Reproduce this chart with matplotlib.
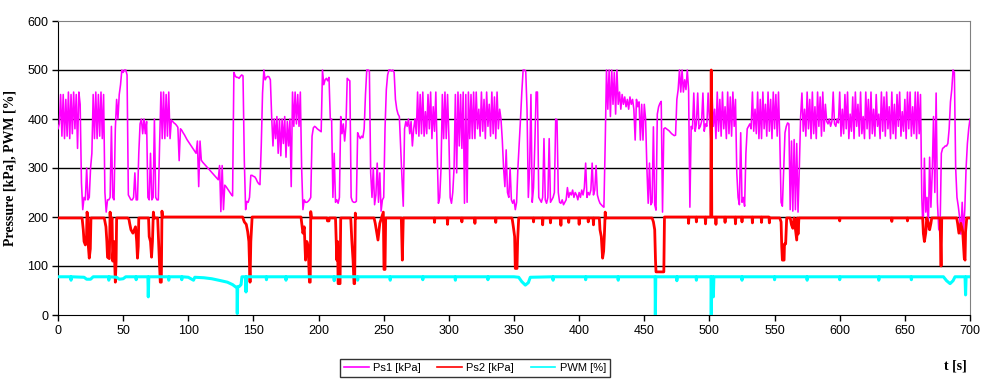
import numpy as np
import matplotlib
matplotlib.use("Agg")
import matplotlib.pyplot as plt

# Ps1 [kPa], one value per second, t = 0 .. 700 s
ps1 = [
    380, 390, 450, 365, 450, 360, 440, 365, 455, 360,   # 0
    450, 370, 455, 380, 450, 340, 455, 430, 270, 215,   # 10
    240, 235, 300, 235, 240, 300, 330, 450, 360, 455,   # 20
    360, 450, 365, 455, 360, 450, 250, 210, 235, 235,   # 30
    240, 385, 240, 235, 380, 440, 400, 450, 470, 500,   # 40
    495, 500, 500, 490, 245, 240, 235, 235, 240, 290,   # 50
    235, 235, 330, 390, 400, 370, 400, 370, 395, 240,   # 60
    235, 330, 235, 240, 400, 240, 235, 235, 350, 455,   # 70
    360, 455, 360, 450, 365, 455, 360, 398, 395, 392,   # 80
    390, 387, 383, 315, 380, 377, 372, 368, 363, 358,   # 90
    354, 350, 346, 342, 338, 334, 330, 355, 262, 355,   # 100
    316, 312, 309, 306, 303, 300, 297, 294, 291, 288,   # 110
    285, 282, 279, 276, 305, 211, 305, 215, 265, 262,   # 120
    258, 254, 250, 246, 243, 495, 488, 485, 485, 483,   # 130
    487, 490, 488, 316, 215, 232, 230, 240, 285, 285,   # 140
    283, 282, 278, 272, 268, 266, 345, 453, 500, 480,   # 150
    485, 487, 486, 480, 405, 345, 400, 360, 405, 330,   # 160
    400, 325, 400, 350, 405, 322, 395, 345, 400, 262,   # 170
    455, 385, 455, 390, 450, 385, 455, 300, 215, 235,   # 180
    230, 230, 232, 235, 240, 365, 382, 385, 383, 380,   # 190
    378, 376, 374, 500, 470, 480, 483, 478, 485, 400,   # 200
    400, 240, 330, 230, 235, 228, 240, 405, 370, 390,   # 210
    355, 385, 483, 480, 478, 240, 232, 230, 230, 232,   # 220
    372, 365, 360, 365, 362, 380, 450, 500, 500, 498,   # 230
    290, 240, 300, 225, 245, 310, 230, 290, 212, 235,   # 240
    240, 380, 460, 490, 500, 500, 498, 500, 495, 440,   # 250
    420, 410, 405, 340, 280, 222, 380, 395, 385, 400,   # 260
    370, 395, 345, 380, 400, 370, 455, 365, 450, 370,   # 270
    455, 365, 415, 370, 450, 380, 455, 360, 425, 375,   # 280
    455, 335, 228, 240, 300, 450, 360, 455, 360, 450,   # 290
    365, 240, 228, 250, 300, 450, 290, 455, 345, 450,   # 300
    340, 455, 228, 450, 230, 455, 360, 450, 360, 455,   # 310
    360, 455, 380, 420, 365, 455, 375, 440, 360, 455,   # 320
    385, 430, 365, 455, 370, 445, 360, 455, 380, 420,   # 330
    400, 358, 300, 262, 337, 250, 240, 300, 235, 228,   # 340
    235, 215, 230, 300, 350, 400, 455, 500, 500, 498,   # 350
    420, 240, 300, 450, 230, 260, 350, 455, 455, 240,   # 360
    235, 230, 240, 360, 235, 228, 240, 360, 230, 235,   # 370
    240, 250, 400, 398, 250, 230, 228, 235, 225, 230,   # 380
    235, 260, 240, 250, 245, 255, 240, 250, 245, 235,   # 390
    250, 240, 255, 245, 260, 310, 240, 250, 245, 255,   # 400
    310, 245, 255, 305, 245, 235, 228, 225, 222, 220,   # 410
    350, 500, 420, 500, 405, 500, 430, 495, 410, 500,   # 420
    430, 455, 420, 450, 430, 445, 425, 440, 420, 445,   # 430
    430, 440, 420, 357, 440, 425, 435, 357, 430, 357,   # 440
    430, 400, 300, 228, 310, 225, 230, 384, 225, 214,   # 450
    410, 425, 432, 436, 210, 380, 382, 380, 378, 376,   # 460
    373, 370, 368, 366, 367, 440, 460, 500, 455, 500,   # 470
    455, 480, 460, 500, 460, 220, 385, 380, 453, 375,   # 480
    390, 453, 380, 385, 395, 453, 375, 390, 385, 453,   # 490
    400, 360, 453, 385, 420, 360, 455, 375, 440, 365,   # 500
    455, 380, 425, 360, 455, 370, 445, 365, 455, 385,   # 510
    440, 290, 240, 225, 372, 230, 240, 222, 330, 380,   # 520
    385, 390, 380, 455, 375, 420, 370, 455, 360, 440,   # 530
    360, 455, 380, 430, 365, 455, 375, 440, 360, 455,   # 540
    380, 450, 365, 455, 360, 230, 222, 300, 372, 385,   # 550
    392, 390, 215, 355, 212, 358, 215, 350, 210, 300,   # 560
    405, 453, 375, 420, 365, 455, 380, 440, 360, 455,   # 570
    370, 425, 360, 455, 385, 445, 365, 455, 375, 430,   # 580
    395, 390, 400, 385, 395, 455, 390, 385, 400, 392,   # 590
    455, 365, 420, 370, 450, 380, 455, 360, 410, 375,   # 600
    445, 360, 455, 385, 430, 365, 455, 370, 405, 360,   # 610
    455, 380, 440, 360, 455, 370, 420, 365, 450, 385,   # 620
    410, 360, 455, 375, 445, 365, 455, 380, 425, 360,   # 630
    455, 370, 430, 360, 450, 385, 455, 365, 415, 375,   # 640
    440, 360, 455, 380, 455, 365, 425, 370, 455, 360,   # 650
    455, 370, 450, 240, 165, 320, 210, 240, 175, 322,   # 660
    220, 290, 405, 250, 453, 230, 175, 170, 330, 340,   # 670
    342, 345, 345, 350, 380, 435, 460, 500, 495, 300,   # 680
    240, 222, 200, 165, 230, 170, 215, 300, 350, 380,   # 690
    400,
]

# Ps2 [kPa] as (t, value) breakpoints
ps2_pts = [
    (0, 198), (18.5, 198), (19.4, 174), (20, 150), (21, 143), (21.8, 150), (22.3, 210),
    (23, 198), (23.3, 140), (24, 116), (24.8, 135), (25.3, 198),
    (35.5, 198), (36.8, 180), (37.5, 150), (38, 118), (39.4, 115), (40, 210), (40.4, 185),
    (41.5, 198), (42, 110), (43, 150), (44, 67), (44.6, 110), (45, 198),
    (53.5, 198), (54.5, 195), (55, 187), (56, 174), (57.5, 167), (58.6, 174), (59.5, 180),
    (60.4, 150), (61, 116), (61.6, 140), (62, 198),
    (69.5, 198), (70, 160), (71, 150), (71.8, 118), (72.5, 150), (73.2, 210), (73.8, 198),
    (76.5, 198), (77.2, 150), (77.8, 110), (78.5, 67), (79.3, 67), (79.6, 150), (79.8, 212),
    (80.3, 200), (141.7, 200), (143, 190), (144.5, 185), (145.6, 170), (146.5, 150),
    (147.4, 67), (148, 150), (149, 200),
    (186.5, 200), (188, 167), (189, 180), (190, 112), (191, 150), (192, 140), (193, 67),
    (193.6, 67), (194, 211), (194.6, 198),
    (206.5, 198), (206.8, 192), (208, 192), (208.3, 198), (213, 198), (214, 112),
    (214.6, 150), (215, 64), (216.5, 64),
    (217, 198), (224.7, 198), (225.5, 153), (226.5, 110), (227.2, 64), (227.7, 64),
    (228.2, 208), (228.6, 198), (242.6, 198), (243.5, 187), (245.6, 153), (247, 187),
    (249.7, 210), (250.2, 93), (251, 93), (251.5, 198), (263.5, 198), (264.3, 112),
    (265, 198),
    (288.7, 198), (289, 189), (289.3, 198), (298.7, 198), (299, 185), (299.3, 198),
    (309.7, 198), (310, 190), (310.3, 198), (319.7, 198), (320, 187), (320.3, 198),
    (335.7, 198), (336, 189), (336.3, 198),
    (348.5, 198), (349.5, 180), (350.5, 160), (351, 95), (352.3, 95), (352.8, 153),
    (353.6, 198),
    (364.7, 198), (365, 190), (365.3, 198), (371.7, 198), (372, 184), (372.3, 198),
    (377.7, 198), (378, 188), (378.3, 198), (385.7, 198), (386, 183), (386.3, 198),
    (391.7, 198), (392, 189), (392.3, 198), (399.7, 198), (400, 185), (400.3, 198),
    (406.7, 198), (407, 190), (407.3, 198), (410.7, 198), (411, 184), (411.3, 198),
    (415.5, 198), (416, 174), (417, 160), (418, 116), (418.8, 130), (419.4, 165),
    (420, 210), (420.5, 198), (456, 198), (457, 190), (458, 174), (458.6, 112), (459, 88),
    (465, 88), (465.5, 200),
    (483.7, 200), (484, 187), (484.3, 200), (489.7, 200), (490, 190), (490.3, 200),
    (496.7, 200), (497, 186), (497.3, 200),
    (501, 200), (501.4, 500), (501.8, 200),
    (504.7, 200), (505, 185), (505.3, 200), (511.7, 200), (512, 189), (512.3, 200),
    (519.7, 200), (520, 186), (520.3, 200), (524.7, 200), (525, 190), (525.3, 200),
    (532.7, 200), (533, 188), (533.3, 200), (539.7, 200), (540, 189), (540.3, 200),
    (545.7, 200), (546, 188), (546.3, 198),
    (554, 198), (555, 190), (555.5, 140), (556, 112), (557.3, 112), (557.6, 145),
    (558.5, 145), (559.3, 198), (562, 198), (563, 184), (564, 177), (565, 198), (567, 153),
    (567.5, 198), (568, 165), (568.7, 198),
    (599.7, 198), (600, 192), (600.3, 198), (639.7, 198), (640, 191), (640.3, 198),
    (651.7, 198), (652, 192), (652.3, 198),
    (663.7, 198), (664.2, 167), (665, 150), (666, 167), (666.8, 198), (668, 187),
    (669, 174), (670, 187), (670.6, 198), (677, 198), (677.5, 133), (677.8, 100),
    (678.3, 198), (689.8, 198), (690.5, 187), (691.5, 167), (693, 187), (694.4, 170),
    (695.6, 116), (696.2, 112), (696.6, 170), (697.5, 198), (700, 198),
]

# PWM [%] as (t, value) breakpoints
pwm_pts = [
    (0, 78), (9.7, 78), (10, 71), (10.3, 78), (20, 77), (22, 73), (25, 73), (27, 78),
    (38.7, 78), (39, 71), (39.3, 78), (45, 77), (47, 73), (50, 74), (52, 78),
    (59.7, 78), (60, 72), (60.3, 78),
    (69, 78), (69.3, 37), (69.7, 78), (84.7, 78), (85, 71), (85.3, 78),
    (94.7, 78), (95, 72), (95.3, 78), (100, 77), (104, 71), (105, 77), (112, 76),
    (118, 74), (125, 70), (130, 67), (134, 62), (136, 58), (137.4, 55), (137.6, 3),
    (137.9, 58), (139, 58), (140.5, 62), (141.2, 78), (144, 78), (144.3, 47), (144.6, 78),
    (159.7, 78), (160, 72), (160.3, 78), (174.7, 78), (175, 71), (175.3, 78),
    (200, 78), (211.7, 78), (212, 70), (212.3, 78), (229.7, 78), (230, 71), (230.3, 78),
    (254.7, 78), (255, 71), (255.3, 78), (279.7, 78), (280, 72), (280.3, 78),
    (304.7, 78), (305, 71), (305.3, 78), (329.7, 78), (330, 72), (330.3, 78),
    (350, 78), (353.6, 77), (356, 68), (358.7, 61), (361, 66), (362.5, 77),
    (379.7, 78), (380, 71), (380.3, 78), (404.7, 78), (405, 72), (405.3, 78),
    (429.7, 78), (430, 71), (430.3, 78),
    (458.3, 78), (458.5, 0), (458.8, 78), (474.7, 78), (475, 70), (475.3, 78),
    (489.7, 78), (490, 71), (490.3, 78),
    (501.2, 78), (501.4, 0), (501.7, 78),
    (502.6, 78), (503, 37), (503.4, 78), (524.7, 78), (525, 71), (525.3, 78),
    (549.7, 78), (550, 72), (550.3, 78), (574.7, 78), (575, 71), (575.3, 78),
    (599.7, 78), (600, 72), (600.3, 78), (629.7, 78), (630, 71), (630.3, 78),
    (654.7, 78), (655, 72), (655.3, 78),
    (679.6, 78), (682, 70), (684.7, 64), (687, 70),
    (688.5, 78), (696.2, 78), (696.6, 41), (697, 78), (700, 78),
]

t1 = np.arange(len(ps1))
t2, v2 = zip(*ps2_pts)
t3, v3 = zip(*pwm_pts)

fig = plt.figure(figsize=(9.88, 3.87), dpi=100)
ax = fig.add_axes([58 / 988, 1 - 315 / 387, 912 / 988, 294 / 387])

ax.plot(t1, ps1, color="#FF00FF", lw=1.15, label="Ps1 [kPa]", zorder=3)
ax.plot(t2, v2, color="#FF0000", lw=2.0, label="Ps2 [kPa]", zorder=4)
ax.plot(t3, v3, color="#00FFFF", lw=2.2, label="PWM [%]", zorder=4)

ax.set_xlim(0, 700)
ax.set_ylim(0, 600)
ax.set_xticks(np.arange(0, 701, 50))
ax.set_yticks(np.arange(0, 601, 100))
for y in range(100, 600, 100):
    ax.axhline(y, color="black", lw=1, zorder=1)

for s in ["top", "right"]:
    ax.spines[s].set_color("#808080")
for s in ["left", "bottom"]:
    ax.spines[s].set_color("black")
ax.tick_params(direction="out", length=4, width=1, labelsize=9, pad=3)
for lab in ax.get_xticklabels() + ax.get_yticklabels():
    lab.set_family("Liberation Sans")

ax.set_ylabel("Pressure [kPa], PWM [%]", family="Liberation Serif",
              fontweight="bold", fontsize=10, labelpad=8)
fig.text(955 / 988, 1 - 366 / 387, "t [s]", family="Liberation Serif",
         fontweight="bold", fontsize=10, ha="center", va="center")

leg = fig.legend(loc="center", bbox_to_anchor=(475 / 988, 1 - 368 / 387), ncol=3,
                 prop={"family": "Liberation Sans", "size": 8}, frameon=True,
                 fancybox=False, edgecolor="black", handlelength=2.2,
                 handletextpad=0.4, columnspacing=1.5, borderpad=0.4)
leg.get_frame().set_linewidth(1)
for line in leg.get_lines():
    line.set_linewidth(1.2)

fig.savefig("out.png", dpi=100)
